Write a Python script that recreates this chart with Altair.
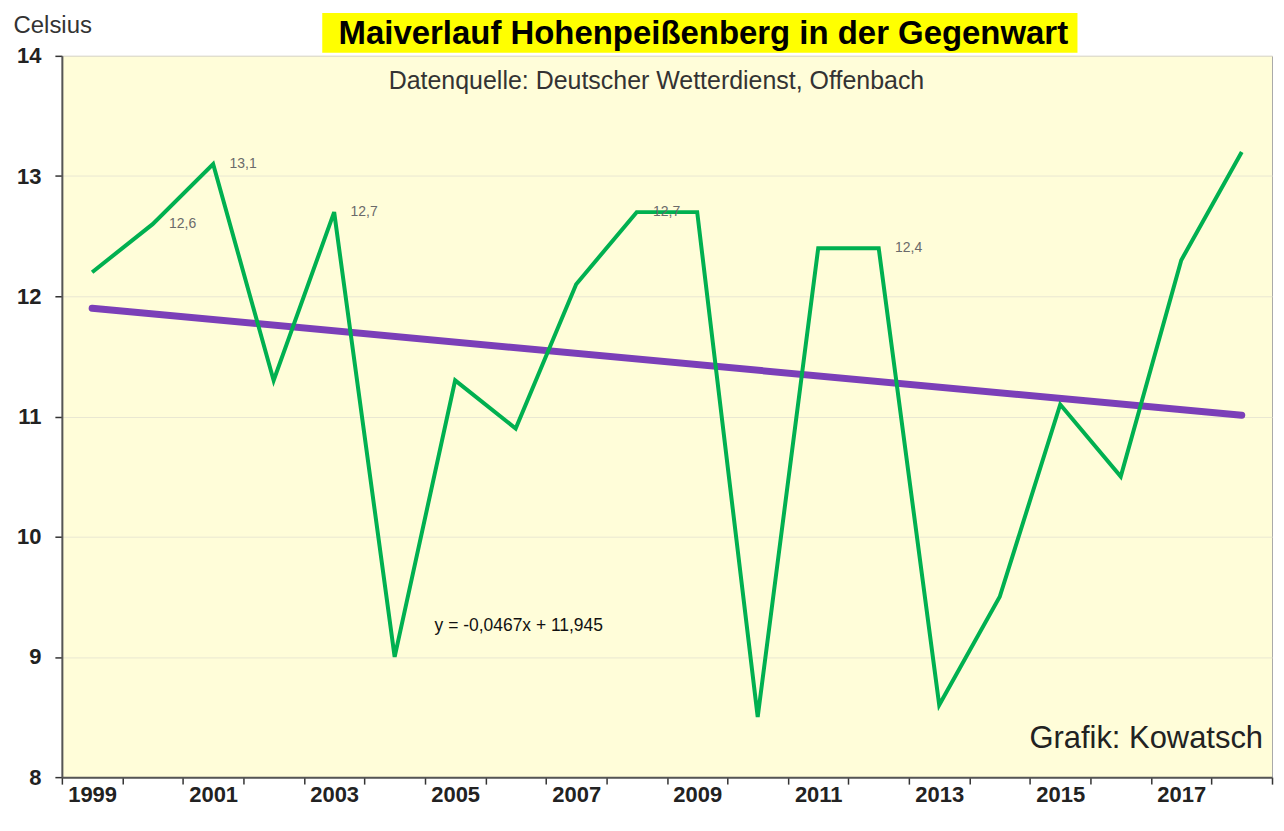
import altair as alt
import pandas as pd

years = [1999, 2000, 2001, 2002, 2003, 2004, 2005, 2006, 2007, 2008,
         2009, 2010, 2011, 2012, 2013, 2014, 2015, 2016, 2017, 2018]
temps = [12.2, 12.6, 13.1, 11.3, 12.7, 9.0, 11.3, 10.9, 12.1, 12.7,
         12.7, 8.5, 12.4, 12.4, 8.6, 9.5, 11.1, 10.5, 12.3, 13.2]

label_years = [2000, 2001, 2003, 2008, 2012]
label_values = [12.6, 13.1, 12.7, 12.7, 12.4]
label_texts = ["12,6", "13,1", "12,7", "12,7", "12,4"]

trend_years = [1999, 2018]
trend_values = [11.90, 11.01]

title_text = "Maiverlauf Hohenpeißenberg in der Gegenwart"
source_text = "Datenquelle: Deutscher Wetterdienst, Offenbach"
eq_text = "y = -0,0467x + 11,945"
credit_text = "Grafik: Kowatsch"

FONT = "Liberation Sans"

df = pd.DataFrame({"year": years, "temp": temps})
df_lab = pd.DataFrame({"year": label_years, "temp": label_values, "txt": label_texts})
df_trend = pd.DataFrame({"year": trend_years, "temp": trend_values})

xscale = alt.Scale(type="band", domain=years, paddingInner=0, paddingOuter=0)
yscale = alt.Scale(domain=[8, 14], nice=False, zero=False)

xaxis = alt.Axis(
    title=None, labelAngle=0, labelOverlap=False, tickBand="extent",
    labelAlign="center", labelFlush=False,
    labelExpr="datum.value % 2 == 1 ? datum.label : ''",
    labelFont=FONT, labelFontSize=22, labelFontWeight="bold", labelColor="#222222",
    labelPadding=10, tickSize=7, tickColor="#333333", domainColor="#555555",
    domainWidth=2, tickWidth=1.5, grid=False,
)
yaxis = alt.Axis(
    title="Celsius", titleAngle=0, titleAlign="left", titleBaseline="middle",
    titleX=-49, titleY=-30, titleFont=FONT, titleFontSize=24,
    titleFontWeight="normal", titleColor="#333333",
    values=[8, 9, 10, 11, 12, 13, 14], format="d",
    labelFont=FONT, labelFontSize=22, labelFontWeight="bold", labelColor="#222222",
    labelPadding=14, tickSize=7, tickColor="#333333", domainColor="#555555",
    domainWidth=2, tickWidth=1.5, grid=True, gridColor="#E9E7D2", gridWidth=1,
)

base = alt.Chart(df)

line = base.mark_line(color="#00B050", strokeWidth=4).encode(
    x=alt.X("year:O", scale=xscale, axis=xaxis),
    y=alt.Y("temp:Q", scale=yscale, axis=yaxis),
)

trend = alt.Chart(df_trend).mark_line(color="#7B3FB8", strokeWidth=7, strokeCap="round").encode(
    x=alt.X("year:O", scale=xscale),
    y=alt.Y("temp:Q", scale=yscale),
)

labels = alt.Chart(df_lab).mark_text(
    font=FONT, fontSize=14, color="#6A6A6A", dx=30, align="center", baseline="middle"
).encode(
    x=alt.X("year:O", scale=xscale),
    y=alt.Y("temp:Q", scale=yscale),
    text="txt:N",
)

one = pd.DataFrame({"t": [title_text]})
title_bg = alt.Chart(one).mark_rect(color="#FFFF00").encode(
    x=alt.value(261), x2=alt.value(1018), y=alt.value(-43), y2=alt.value(-3)
)
title = alt.Chart(one).mark_text(
    font=FONT, fontSize=33, fontWeight="bold", color="#000000", align="center", baseline="middle"
).encode(x=alt.value(643), y=alt.value(-22), text="t:N")

source = alt.Chart(pd.DataFrame({"t": [source_text]})).mark_text(
    font=FONT, fontSize=25, color="#333333", align="center", baseline="middle"
).encode(x=alt.value(596), y=alt.value(25), text="t:N")

eq = alt.Chart(pd.DataFrame({"t": [eq_text]})).mark_text(
    font=FONT, fontSize=17.5, color="#111111", align="center", baseline="middle"
).encode(x=alt.value(458), y=alt.value(572), text="t:N")

credit = alt.Chart(pd.DataFrame({"t": [credit_text]})).mark_text(
    font=FONT, fontSize=31, color="#222222", align="right", baseline="middle"
).encode(x=alt.value(1204), y=alt.value(685), text="t:N")

chart = alt.layer(trend, line, labels, title_bg, title, source, eq, credit).properties(
    width=1213, height=723,
    autosize=alt.AutoSizeParams(type="none"),
    padding={"left": 54, "top": 47, "right": 4, "bottom": 40},
    background="#FFFFFF",
).configure_view(
    fill="#FFFDD9", stroke="#AAAAAA", strokeWidth=1
)

chart.save("out.html", embed_options={"renderer": "svg", "actions": False})
